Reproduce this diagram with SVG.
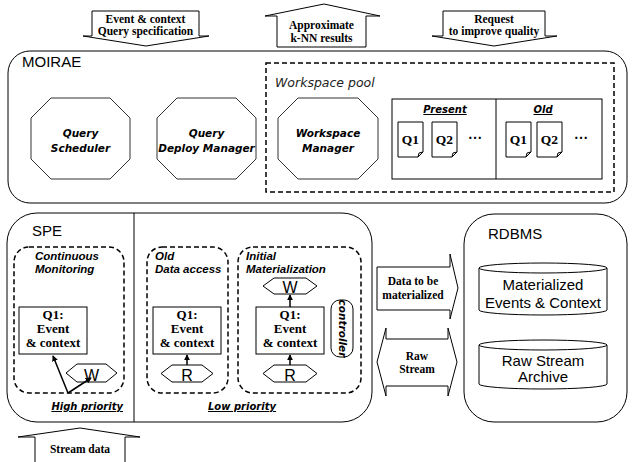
<svg xmlns="http://www.w3.org/2000/svg" width="634" height="462" viewBox="0 0 634 462">
<defs>
<style>
.box{fill:#fff;stroke:#000;stroke-width:1}
.oct{fill:#fff;stroke:#333;stroke-width:1}
.dash{fill:none;stroke:#000;stroke-width:1.5;stroke-dasharray:5,3}
.serif{font-family:"Liberation Serif","Times New Roman",serif;font-weight:bold;fill:#000}
.sans{font-family:"Liberation Sans",Arial,sans-serif;fill:#000}
.bi{font-family:"Liberation Sans",Arial,sans-serif;font-weight:bold;font-style:italic;fill:#000}
.vbi{font-family:"DejaVu Sans",Verdana,sans-serif;font-weight:bold;font-style:italic;fill:#000}
.vi{font-family:"DejaVu Sans",Verdana,sans-serif;font-style:italic;fill:#222}
.mid{text-anchor:middle}
.line{fill:none;stroke:#000;stroke-width:1.5}
</style>
<marker id="ah" viewBox="0 0 8 8" refX="7" refY="4" markerWidth="6" markerHeight="6" markerUnits="userSpaceOnUse" orient="auto">
<path d="M0,0 L8,4 L0,8 Z" fill="#000"/>
</marker>
</defs>
<rect width="634" height="462" fill="#fff"/>

<!-- top arrows -->
<g id="arrow-query-spec">
<polygon class="box" points="92,11 199,11 199,36 209,36 146,46 83,36 92,36"/>
<text class="serif mid" x="145.5" y="23" font-size="11.5">Event &amp; context</text>
<text class="serif mid" x="145.5" y="35" font-size="11.5">Query specification</text>
</g>
<g id="arrow-knn">
<polygon class="box" points="277,47 277,16 265,16 324,4 380,16 366,16 366,47"/>
<text class="serif mid" x="321.5" y="29" font-size="11.5">Approximate</text>
<text class="serif mid" x="321.5" y="41.5" font-size="11.5">k-NN results</text>
</g>
<g id="arrow-request">
<polygon class="box" points="443,11 545,11 545,36 557,36 494,46 432,36 443,36"/>
<text class="serif mid" x="494" y="23" font-size="11.5">Request</text>
<text class="serif mid" x="494" y="35" font-size="11.5">to improve quality</text>
</g>

<!-- MOIRAE -->
<g id="moirae">
<rect class="box" x="8" y="51" width="619" height="152" rx="22"/>
<text class="sans" x="22" y="67" font-size="15">MOIRAE</text>
</g>
<g id="query-scheduler">
<polygon class="oct" points="51,98 110,98 130,118 130,159 110,179 51,179 31,159 31,118"/>
<text class="vbi mid" x="80.5" y="137" font-size="10.5">Query</text>
<text class="vbi mid" x="80.5" y="152" font-size="10.5">Scheduler</text>
</g>
<g id="query-deploy-manager">
<polygon class="oct" points="177,98 236,98 256,118 256,159 236,179 177,179 157,159 157,118"/>
<text class="vbi mid" x="206.5" y="137" font-size="10.5">Query</text>
<text class="vbi mid" x="206.5" y="152" font-size="10.5">Deploy Manager</text>
</g>
<g id="workspace-pool">
<rect class="dash" x="266" y="63" width="348" height="129" stroke-dasharray="4,2.5"/>
<text class="vi" x="275" y="87" font-size="12.5">Workspace pool</text>
</g>
<g id="workspace-manager">
<polygon class="oct" points="298,98 358,98 378,118 378,159 358,179 298,179 278,159 278,118"/>
<text class="vbi mid" x="328" y="137" font-size="10.5">Workspace</text>
<text class="vbi mid" x="328" y="152" font-size="10.5">Manager</text>
</g>
<g id="workspaces">
<rect class="box" x="392" y="99" width="210" height="80"/>
<line x1="496" y1="99" x2="496" y2="179" stroke="#000" stroke-width="1"/>
<text class="vbi mid" x="445" y="113" font-size="10" text-decoration="underline">Present</text>
<text class="vbi mid" x="543" y="113" font-size="10" text-decoration="underline">Old</text>
<g id="present-q1">
<path class="box" d="M398,122 H423 V152 L418,157 H398 Z M418,157 L419,153 L423,152"/>
<text class="serif mid" x="410.5" y="144" font-size="13.5">Q1</text>
</g>
<g id="present-q2">
<path class="box" d="M432,122 H457 V152 L452,157 H432 Z M452,157 L453,153 L457,152"/>
<text class="serif mid" x="444.5" y="144" font-size="13.5">Q2</text>
</g>
<text class="serif" x="468" y="139" font-size="14" font-weight="normal">…</text>
<g id="old-q1">
<path class="box" d="M506,122 H531 V152 L526,157 H506 Z M526,157 L527,153 L531,152"/>
<text class="serif mid" x="518.5" y="144" font-size="13.5">Q1</text>
</g>
<g id="old-q2">
<path class="box" d="M537,122 H562 V152 L557,157 H537 Z M557,157 L558,153 L562,152"/>
<text class="serif mid" x="549.5" y="144" font-size="13.5">Q2</text>
</g>
<text class="serif" x="574" y="139" font-size="14" font-weight="normal">…</text>
</g>

<!-- SPE -->
<g id="spe">
<rect class="box" x="7" y="213" width="365" height="209" rx="30"/>
<line x1="134" y1="213" x2="134" y2="422" stroke="#000" stroke-width="1"/>
<text class="sans" x="32" y="236" font-size="15">SPE</text>
<text class="vbi" x="123" y="410" font-size="10" text-anchor="end" text-decoration="underline">High priority</text>
<text class="vbi mid" x="242" y="410" font-size="10" text-decoration="underline">Low priority</text>
</g>
<g id="continuous-monitoring">
<rect class="dash" x="14" y="247" width="110" height="146" rx="15"/>
<text class="bi" x="35" y="260" font-size="11.5">Continuous</text>
<text class="bi" x="35" y="273" font-size="11.5">Monitoring</text>
</g>
<g id="cm-q1">
<rect class="box" x="19" y="307" width="68" height="47"/>
<text class="serif mid" x="53" y="319" font-size="13">Q1:</text>
<text class="serif mid" x="53" y="333" font-size="13">Event</text>
<text class="serif mid" x="53" y="347" font-size="13">&amp; context</text>
</g>
<g id="cm-w">
<polygon class="box" points="66,373 77,364 106,364 117,373 106,382 77,382"/>
<text class="sans mid" x="91.5" y="381" font-size="16">W</text>
</g>
<g id="old-data-access">
<rect class="dash" x="147" y="247" width="81" height="146" rx="15"/>
<text class="bi" x="155" y="260" font-size="11.5">Old</text>
<text class="bi" x="155" y="273" font-size="11.5">Data access</text>
</g>
<g id="od-q1">
<rect class="box" x="153" y="307" width="68" height="47"/>
<text class="serif mid" x="187" y="319" font-size="13">Q1:</text>
<text class="serif mid" x="187" y="333" font-size="13">Event</text>
<text class="serif mid" x="187" y="347" font-size="13">&amp; context</text>
</g>
<g id="od-r">
<polygon class="box" points="161,373.5 172,365 202,365 213,373.5 202,382 172,382"/>
<text class="sans mid" x="187" y="381" font-size="16">R</text>
</g>
<g id="initial-materialization">
<rect class="dash" x="238" y="247" width="123" height="146" rx="15"/>
<text class="bi" x="246" y="260" font-size="11.5">Initial</text>
<text class="bi" x="246" y="273" font-size="11.5">Materialization</text>
</g>
<g id="im-w">
<polygon class="box" points="263,286 274,278 306,278 317,286 306,294 274,294"/>
<text class="sans mid" x="290" y="293" font-size="16">W</text>
</g>
<g id="im-q1">
<rect class="box" x="256" y="307" width="68" height="47"/>
<text class="serif mid" x="290" y="319" font-size="13">Q1:</text>
<text class="serif mid" x="290" y="333" font-size="13">Event</text>
<text class="serif mid" x="290" y="347" font-size="13">&amp; context</text>
</g>
<g id="im-r">
<polygon class="box" points="263,373.5 274,365 306,365 317,373.5 306,382 274,382"/>
<text class="sans mid" x="290" y="381" font-size="16">R</text>
</g>
<g id="controller">
<rect class="box" x="331" y="300" width="22" height="57" rx="9"/>
<text class="vbi mid" x="342" y="332" font-size="10.5" transform="rotate(90 342 328.5)">controller</text>
</g>

<!-- middle arrows -->
<g id="arrow-materialize">
<polygon class="box" points="377,267 450,267 450,254 458,288 450,319 450,310 377,310"/>
<text class="serif mid" x="413" y="285" font-size="11.5">Data to be</text>
<text class="serif mid" x="413" y="299" font-size="11.5">materialized</text>
</g>
<g id="arrow-raw-stream">
<polygon class="box" points="386,339 448,339 448,328 457,362 448,396 448,386 386,386 386,396 377,362 386,328"/>
<text class="serif mid" x="417" y="360" font-size="11.5">Raw</text>
<text class="serif mid" x="417" y="373" font-size="11.5">Stream</text>
</g>

<!-- RDBMS -->
<g id="rdbms">
<rect class="box" x="464" y="214" width="163" height="208" rx="30"/>
<text class="sans" x="488" y="239" font-size="15">RDBMS</text>
</g>
<g id="materialized-events">
<path class="box" d="M479,268 V310 A64,5 0 0 0 607,310 V268"/>
<ellipse class="box" cx="543" cy="268" rx="64" ry="5"/>
<text class="sans mid" x="543" y="290" font-size="15">Materialized</text>
<text class="sans mid" x="543" y="308" font-size="15">Events &amp; Context</text>
</g>
<g id="raw-stream-archive">
<path class="box" d="M479,345 V384 A64,5 0 0 0 607,384 V345"/>
<ellipse class="box" cx="543" cy="345" rx="64" ry="5"/>
<text class="sans mid" x="543" y="366" font-size="15">Raw Stream</text>
<text class="sans mid" x="543" y="382" font-size="15">Archive</text>
</g>

<!-- stream data -->
<g id="arrow-stream-data">
<polygon class="box" points="35,463 35,437 18,437 80,428 140,437 125,437 125,463"/>
<text class="serif mid" x="80" y="453" font-size="11.5">Stream data</text>
</g>

<!-- connectors -->
<g id="connectors">
<line class="line" x1="68" y1="393" x2="53" y2="356" marker-end="url(#ah)"/>
<line class="line" x1="68" y1="393" x2="91" y2="378" marker-end="url(#ah)"/>
<line class="line" x1="187" y1="365" x2="187" y2="355" marker-end="url(#ah)"/>
<line class="line" x1="290" y1="365" x2="290" y2="355" marker-end="url(#ah)"/>
<line class="line" x1="290" y1="307" x2="290" y2="295" marker-end="url(#ah)"/>
</g>
</svg>
